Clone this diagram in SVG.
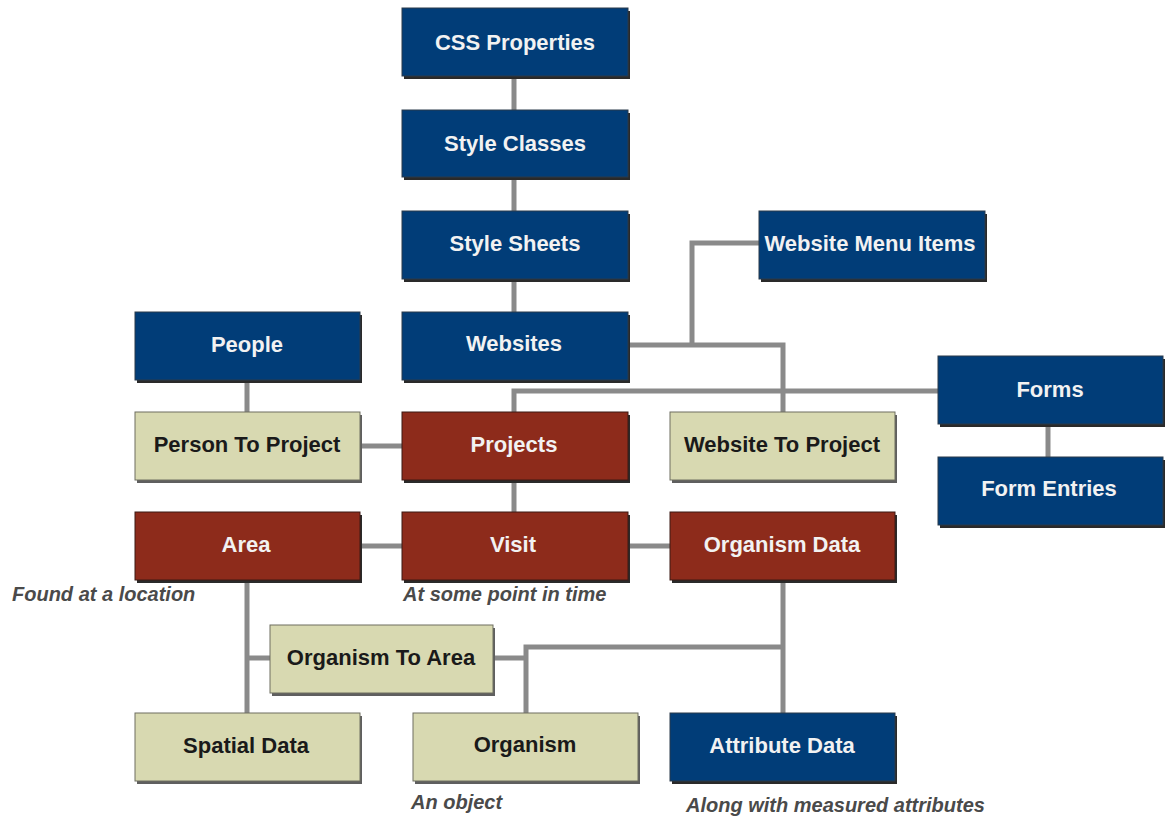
<svg xmlns="http://www.w3.org/2000/svg" width="1165" height="818" viewBox="0 0 1165 818">
<style>
.sh{fill:#2a2a2a}
.shb{fill:#5f5f5f}
.blue{fill:#013d78;stroke:#2b3a4a;stroke-width:1}
.red{fill:#8d2b1b;stroke:#3d1a14;stroke-width:1}
.beige{fill:#d8d9b1;stroke:#6e6e60;stroke-width:1}
.tw{font-family:"Liberation Sans",Arial,sans-serif;font-weight:bold;font-size:22px;fill:#f2f2f2;text-anchor:middle}
.tk{font-family:"Liberation Sans",Arial,sans-serif;font-weight:bold;font-size:22px;fill:#1a1a1a;text-anchor:middle}
.cap{font-family:"Liberation Sans",Arial,sans-serif;font-weight:bold;font-style:italic;font-size:20px;fill:#4a4a4a}
.c{fill:none;stroke:#8a8a8a;stroke-width:5}
</style>
<rect width="1165" height="818" fill="#ffffff"/>
<g id="connectors">
<path class="c" d="M514 76V110M514 177V211M514 279V312"/>
<path class="c" d="M628 345H783V412M692 345V243H759"/>
<path class="c" d="M938 391H514V412"/>
<path class="c" d="M1048 424V457"/>
<path class="c" d="M247 380V412M360 446H402M514 480V512"/>
<path class="c" d="M360 546H402M628 546H670"/>
<path class="c" d="M247 580V713M247 658H270"/>
<path class="c" d="M493 658H526M526 713V647H783M783 580V713"/>
</g>
<g id="css-properties"><rect class="sh" x="404" y="11" width="226" height="68"/><rect class="blue" x="402" y="8" width="226" height="68"/><text class="tw" x="515" y="50">CSS Properties</text></g>
<g id="style-classes"><rect class="sh" x="404" y="113" width="226" height="67"/><rect class="blue" x="402" y="110" width="226" height="67"/><text class="tw" x="515" y="151">Style Classes</text></g>
<g id="style-sheets"><rect class="sh" x="404" y="214" width="226" height="68"/><rect class="blue" x="402" y="211" width="226" height="68"/><text class="tw" x="515" y="251">Style Sheets</text></g>
<g id="website-menu-items"><rect class="sh" x="761" y="214" width="226" height="68"/><rect class="blue" x="759" y="211" width="226" height="68"/><text class="tw" x="870" y="251">Website Menu Items</text></g>
<g id="people"><rect class="sh" x="137" y="315" width="225" height="68"/><rect class="blue" x="135" y="312" width="225" height="68"/><text class="tw" x="247" y="352">People</text></g>
<g id="websites"><rect class="sh" x="404" y="315" width="226" height="68"/><rect class="blue" x="402" y="312" width="226" height="68"/><text class="tw" x="514" y="351">Websites</text></g>
<g id="forms"><rect class="sh" x="940" y="359" width="225" height="68"/><rect class="blue" x="938" y="356" width="225" height="68"/><text class="tw" x="1050" y="397">Forms</text></g>
<g id="person-to-project"><rect class="shb" x="137" y="415" width="225" height="68"/><rect class="beige" x="135" y="412" width="225" height="68"/><text class="tk" x="247" y="452">Person To Project</text></g>
<g id="projects"><rect class="sh" x="404" y="415" width="226" height="68"/><rect class="red" x="402" y="412" width="226" height="68"/><text class="tw" x="514" y="452">Projects</text></g>
<g id="website-to-project"><rect class="shb" x="672" y="415" width="225" height="68"/><rect class="beige" x="670" y="412" width="225" height="68"/><text class="tk" x="782" y="452">Website To Project</text></g>
<g id="form-entries"><rect class="sh" x="940" y="460" width="225" height="68"/><rect class="blue" x="938" y="457" width="225" height="68"/><text class="tw" x="1049" y="496">Form Entries</text></g>
<g id="area"><rect class="sh" x="137" y="515" width="225" height="68"/><rect class="red" x="135" y="512" width="225" height="68"/><text class="tw" x="246" y="552">Area</text><text class="cap" x="12" y="601">Found at a location</text></g>
<g id="visit"><rect class="sh" x="404" y="515" width="226" height="68"/><rect class="red" x="402" y="512" width="226" height="68"/><text class="tw" x="513" y="552">Visit</text><text class="cap" x="403" y="601">At some point in time</text></g>
<g id="organism-data"><rect class="sh" x="672" y="515" width="225" height="68"/><rect class="red" x="670" y="512" width="225" height="68"/><text class="tw" x="782" y="552">Organism Data</text></g>
<g id="organism-to-area"><rect class="shb" x="272" y="628" width="223" height="68"/><rect class="beige" x="270" y="625" width="223" height="68"/><text class="tk" x="381" y="665">Organism To Area</text></g>
<g id="spatial-data"><rect class="shb" x="137" y="716" width="225" height="68"/><rect class="beige" x="135" y="713" width="225" height="68"/><text class="tk" x="246" y="753">Spatial Data</text></g>
<g id="organism"><rect class="shb" x="415" y="716" width="225" height="68"/><rect class="beige" x="413" y="713" width="225" height="68"/><text class="tk" x="525" y="752">Organism</text><text class="cap" x="411" y="809">An object</text></g>
<g id="attribute-data"><rect class="sh" x="672" y="716" width="225" height="68"/><rect class="blue" x="670" y="713" width="225" height="68"/><text class="tw" x="782" y="753">Attribute Data</text><text class="cap" x="686" y="812">Along with measured attributes</text></g>
</svg>
